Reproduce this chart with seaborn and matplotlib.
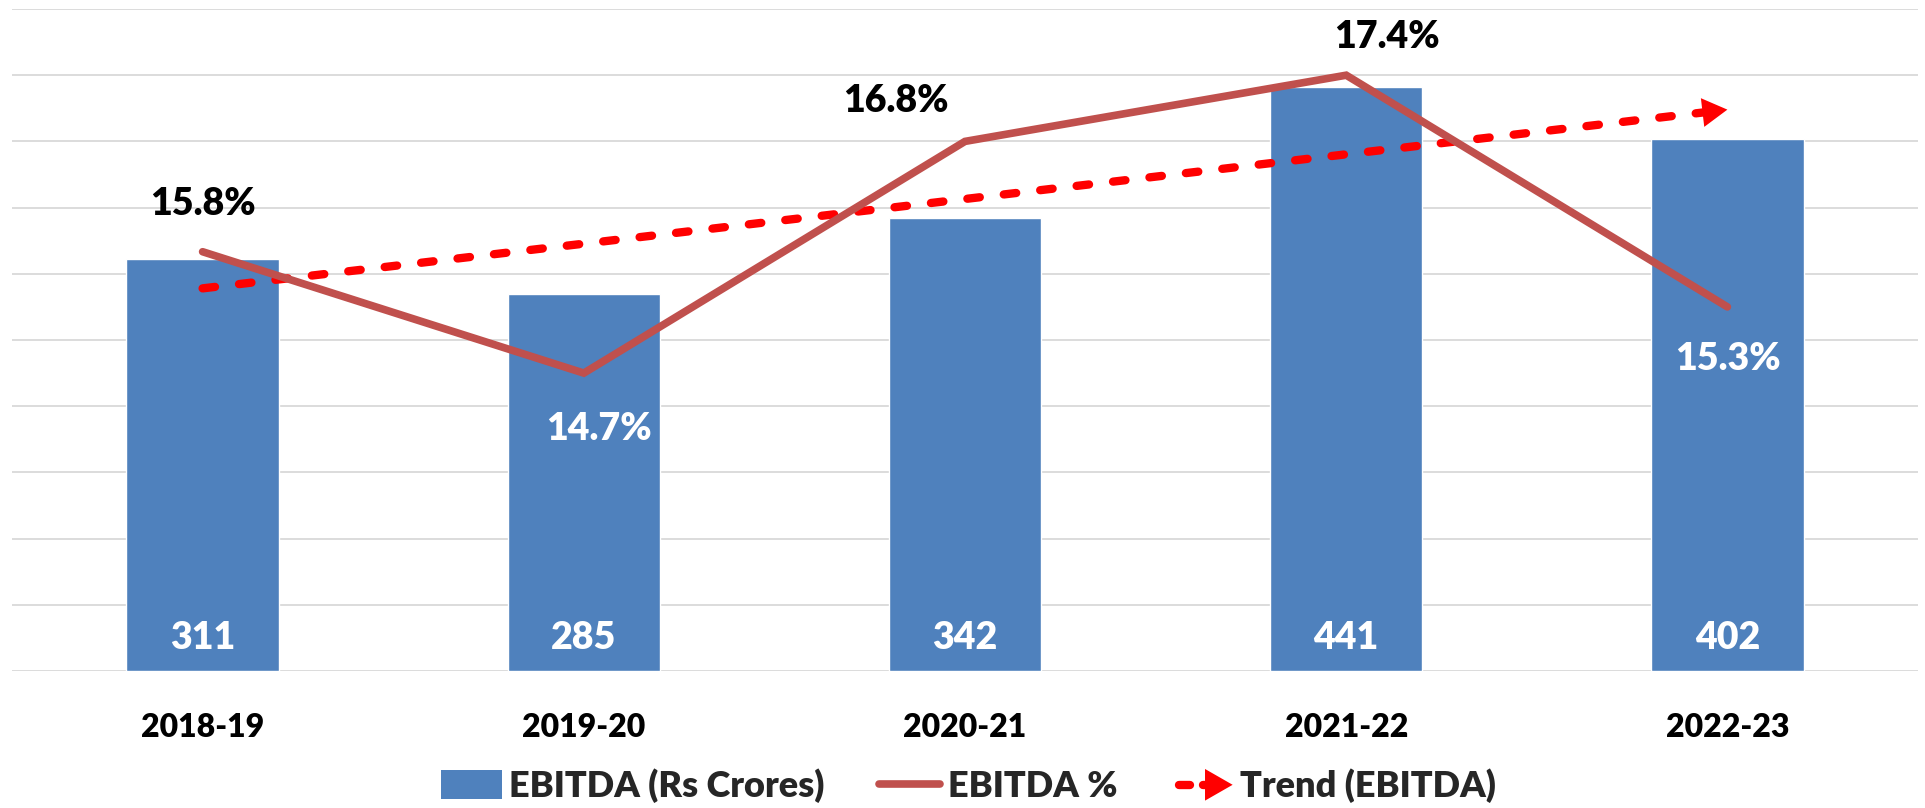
import matplotlib
matplotlib.use("Agg")
import matplotlib.pyplot as plt
import seaborn as sns
import numpy as np
from matplotlib.lines import Line2D
from matplotlib.patches import Patch, Polygon
from matplotlib.legend_handler import HandlerBase

# ---------------- data ----------------
categories = ["2018-19", "2019-20", "2020-21", "2021-22", "2022-23"]
ebitda = [311, 285, 342, 441, 402]            # Rs Crores (bars)
ebitda_pct = [15.8, 14.7, 16.8, 17.4, 15.3]   # EBITDA % (line, secondary axis)
trend_ends = [289, 424]                       # linear trend of EBITDA at first / last category

# ---------------- style ----------------
sns.set_theme(style="white")
plt.rcParams["font.family"] = ["Lato", "DejaVu Sans"]
FW = "heavy"
plt.rcParams["font.weight"] = FW

BAR_C = "#4F81BD"
LINE_C = "#C0504D"
TREND_C = "#FF0000"
GRID_C = "#D9D9D9"

W, H = 1925, 808
fig = plt.figure(figsize=(W / 100, H / 100), dpi=100)
ax = fig.add_axes([12 / W, 137 / H, 1906 / W, 662 / H])

sns.barplot(x=categories, y=ebitda, color=BAR_C, saturation=1, width=0.4,
            ax=ax, zorder=2)
ax.set_xlim(-0.5, len(categories) - 0.5)
ax.set_ylim(0, 500)
ax.set_yticks(np.arange(0, 501, 50))
ax.yaxis.grid(True, color=GRID_C, lw=1.3)
ax.set_axisbelow(True)
ax.set_xticks(range(len(categories)))
ax.set_xticklabels(categories, fontsize=23, fontweight=FW, color="black")
ax.set_xlabel("")
ax.set_ylabel("")
for s in ax.spines.values():
    s.set_visible(False)

# bar value labels
for i, v in enumerate(ebitda):
    ax.annotate(f"{v}", xy=(i, 0), xytext=(0, 33), textcoords="offset pixels",
                ha="center", va="center", color="white", fontsize=27,
                fontweight=FW, zorder=5)

# trend line (primary axis) with arrow head
xs = np.arange(len(categories))
t_end = 0.985
x_t = [xs[0], xs[0] + (xs[-1] - xs[0]) * t_end]
y_t = [trend_ends[0], trend_ends[0] + (trend_ends[1] - trend_ends[0]) * t_end]
ax.plot(x_t, y_t, color=TREND_C, lw=6, linestyle=(0, (1.5, 2.9)),
        dash_capstyle="round", zorder=4)
t_head = 0.93
ax.annotate("", xy=(xs[-1], trend_ends[1]),
            xytext=(xs[0] + (xs[-1] - xs[0]) * t_head,
                    trend_ends[0] + (trend_ends[1] - trend_ends[0]) * t_head),
            arrowprops=dict(arrowstyle="-|>,head_length=0.9,head_width=0.52",
                            mutation_scale=20, color=TREND_C, lw=0,
                            shrinkA=0, shrinkB=0),
            zorder=4)

# EBITDA % line on secondary axis
ax2 = ax.twinx()
sns.lineplot(x=xs, y=ebitda_pct, ax=ax2, color=LINE_C, linewidth=5.5,
             solid_capstyle="round", solid_joinstyle="miter", zorder=3)
ax2.set_ylim(12, 18)
ax2.set_xlim(-0.5, len(categories) - 0.5)
ax2.axis("off")

# twinx re-enables left ticks on the primary axis: hide them again
ax.tick_params(axis="y", left=False, right=False, labelleft=False,
               labelright=False)
ax.tick_params(axis="x", bottom=False, pad=24)

label_offsets = [(0, -48, "black"), (15, 56, "white"), (-69, -40, "black"),
                 (41, -38, "black"), (1, 52, "white")]
for i, (p, (dx, dy, c)) in enumerate(zip(ebitda_pct, label_offsets)):
    ax2.annotate(f"{p:.1f}%", xy=(i, p), xytext=(dx, -dy),
                 textcoords="offset pixels", ha="center", va="center",
                 color=c, fontsize=27, fontweight=FW, zorder=6)


# ---------------- legend ----------------
class TrendHandler(HandlerBase):
    def create_artists(self, legend, orig_handle, xdescent, ydescent, width,
                       height, fontsize, trans):
        y = height / 2 - ydescent
        x0 = -xdescent
        line = Line2D([x0 + 0.12 * width, x0 + 0.30 * width], [y, y],
                      color=TREND_C, lw=6, solid_capstyle="round",
                      transform=trans)
        dot = Line2D([x0 + 0.52 * width, x0 + 0.58 * width], [y, y],
                     color=TREND_C, lw=6, solid_capstyle="round",
                     transform=trans)
        tri = Polygon([[x0 + 0.55 * width, y - 0.55 * height],
                       [x0 + 0.55 * width, y + 0.55 * height],
                       [x0 + 1.0 * width, y]], closed=True,
                      facecolor=TREND_C, edgecolor="none", transform=trans)
        return [line, dot, tri]


h_bar = Patch(facecolor=BAR_C, edgecolor="none")
h_line = Line2D([], [], color=LINE_C, lw=5.5, solid_capstyle="round")
h_trend = object()
leg = fig.legend([h_bar, h_line, h_trend],
                 ["EBITDA (Rs Crores)", "EBITDA %", "Trend (EBITDA)"],
                 handler_map={h_trend: TrendHandler()},
                 loc="center", bbox_to_anchor=(0.503, 22 / H), ncol=3,
                 frameon=False, handlelength=1.7,
                 handleheight=0.85, handletextpad=0.2, columnspacing=1.5,
                 prop={"weight": FW, "size": 26})

fig.savefig("out.png", dpi=100, facecolor="white")
